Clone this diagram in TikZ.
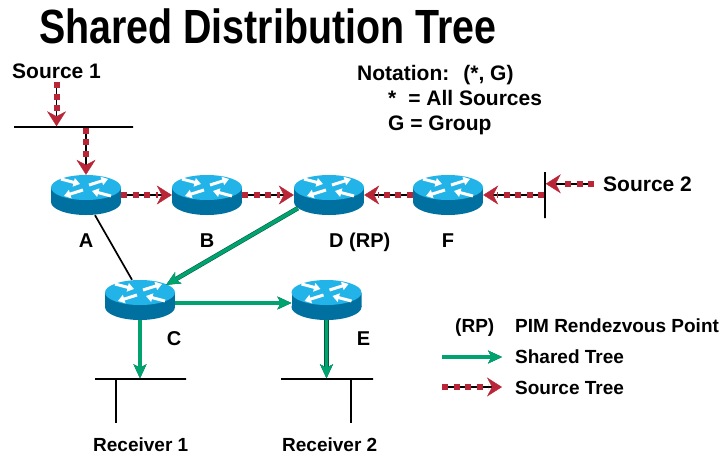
\documentclass[tikz,border=0pt]{standalone}
\usepackage{fontspec}
\setmainfont{Liberation Sans}
\usetikzlibrary{arrows.meta}
\definecolor{srcred}{RGB}{185,38,55}
\definecolor{shgreen}{RGB}{0,163,112}
\definecolor{rtop}{RGB}{34,180,232}
\definecolor{rbody}{RGB}{0,112,160}
\newcommand\fbig{\fontsize{21}{24}\selectfont\bfseries}
\newcommand\fmid{\fontsize{20}{23}\selectfont\bfseries}
\newcommand\fsml{\fontsize{19}{22}\selectfont\bfseries}

\begin{document}
\begin{tikzpicture}[x=1pt,y=-1pt,
  lbl/.style={anchor=base west,inner sep=0},
  rarrow/.style={white,line width=3pt,-{Triangle[length=6.5pt,width=8.5pt]}},
  router/.style={minimum width=70pt,minimum height=40pt,inner sep=0,
    path picture={
      \begin{scope}[shift={(path picture bounding box.center)}]
        \fill[rbody] (0,7) ellipse (35 and 13);
        \fill[rbody] (-35,-7.5) rectangle (35,7);
        \fill[rtop] (0,-7.5) ellipse (35 and 12.5);
        \draw[rarrow] (3,-10) -- (22,-16);
        \draw[rarrow] (-3,-5) -- (-22,1);
        \draw[rarrow] (-25,-16) -- (-6,-11);
        \draw[rarrow] (25,1) -- (6,-4);
      \end{scope}}},
  bus/.style={draw,line width=1.5pt,inner sep=0,minimum height=0pt,minimum width=0pt},
  srctree/.style={draw=black,line width=1.5pt,
    -{Stealth[length=15pt,width=19pt,inset=5pt,color=srcred,line width=0.4pt]},
    postaction={draw=srcred,line width=6pt,dash pattern=on 6pt off 5.5pt,arrows=-,shorten >=14pt}},
  shtree/.style={draw=shgreen,line width=3.5pt,
    -{Stealth[length=14pt,width=13pt,inset=3.5pt,line width=0.5pt]},
    preaction={draw=shgreen!55!black,line width=4.6pt}}]
\useasboundingbox (0,0) rectangle (727,458);

\node[lbl] (title) at (39,43) {\scalebox{0.82}[1]{\fontsize{48}{52}\selectfont\bfseries Shared Distribution Tree}};

\node[lbl] (S1) at (12,78) {\fbig Source 1};
\node[lbl] (S2) at (603,191) {\fbig Source 2};
\node[lbl] (nota) at (357,80) {\fbig Notation:\hspace{14pt}(*, G)};
\node[lbl] (notb) at (388,105) {\fbig *\hspace{12pt}= All Sources};
\node[lbl] (notc) at (388,130) {\fbig G = Group};

\node[router] (A) at (86,195) {};
\node[router] (B) at (207,195) {};
\node[router] (D) at (329,195) {};
\node[router] (F) at (448,195) {};
\node[router] (C) at (140,300) {};
\node[router] (E) at (326.5,300) {};

\node[lbl,anchor=base] (lA) at (86,247) {\fmid A};
\node[lbl,anchor=base] (lB) at (207,247) {\fmid B};
\node[lbl] (lD) at (329,247) {\fmid D (RP)};
\node[lbl,anchor=base] (lF) at (448,247) {\fmid F};
\node[lbl,anchor=base] (lC) at (174,345) {\fmid C};
\node[lbl,anchor=base] (lE) at (363.5,345) {\fmid E};

\node[bus,minimum width=119pt] (bus1) at (73.5,127) {};
\node[bus,minimum height=46pt] (bus2) at (545,195) {};
\node[bus,minimum width=91pt] (R1) at (140.5,379) {};
\node[bus,minimum width=92pt] (R2) at (327,379) {};
\draw[line width=1.5pt] ([xshift=-24.5pt]R1.center) -- ++(0,44);
\draw[line width=1.5pt] ([xshift=24pt]R2.center) -- ++(0,44);
\node[lbl] (rx1) at (93,451) {\fsml Receiver 1};
\node[lbl] (rx2) at (282,451) {\fsml Receiver 2};

\draw[srctree] ([yshift=-4pt]S1.south) -- (S1.south |- bus1.north);
\draw[srctree] (A.north |- bus1.south) -- (A.north);
\draw[srctree] (A.east) -- (B.west);
\draw[srctree] (B.east) -- (D.west);
\draw[srctree] ([xshift=-9pt]S2.west) -- (S2.west -| bus2.east);
\draw[srctree] (bus2.west |- F.east) -- (F.east);
\draw[srctree] (F.west) -- (D.east);

\draw[line width=1.7pt] ([xshift=9pt]A.south) -- ([xshift=-8pt]C.north);
\draw[shtree] ([xshift=4pt,yshift=7pt]D.south west) -- ([xshift=-9pt,yshift=-5pt]C.north east);
\draw[shtree] ([yshift=-3pt]C.east) -- ([yshift=-3pt]E.west);
\draw[shtree] (C.south) -- (C.south |- R1.north);
\draw[shtree] (E.south) -- (E.south |- R2.north);

\node[lbl] (kRP) at (455,332) {\fsml (RP)};
\node[lbl] (kPIM) at (515,332) {\fsml PIM Rendezvous Point};
\node[lbl] (kSh) at (515,363) {\fsml Shared Tree};
\node[lbl] (kSrc) at (515,394) {\fsml Source Tree};
\coordinate (shA) at (442,357);
\coordinate (shB) at (502,357);
\coordinate (srcA) at (442,387);
\coordinate (srcB) at (502,387);
\draw[shtree] (shA) -- (shB);
\draw[srctree] (srcA) -- (srcB);
\end{tikzpicture}
\end{document}
